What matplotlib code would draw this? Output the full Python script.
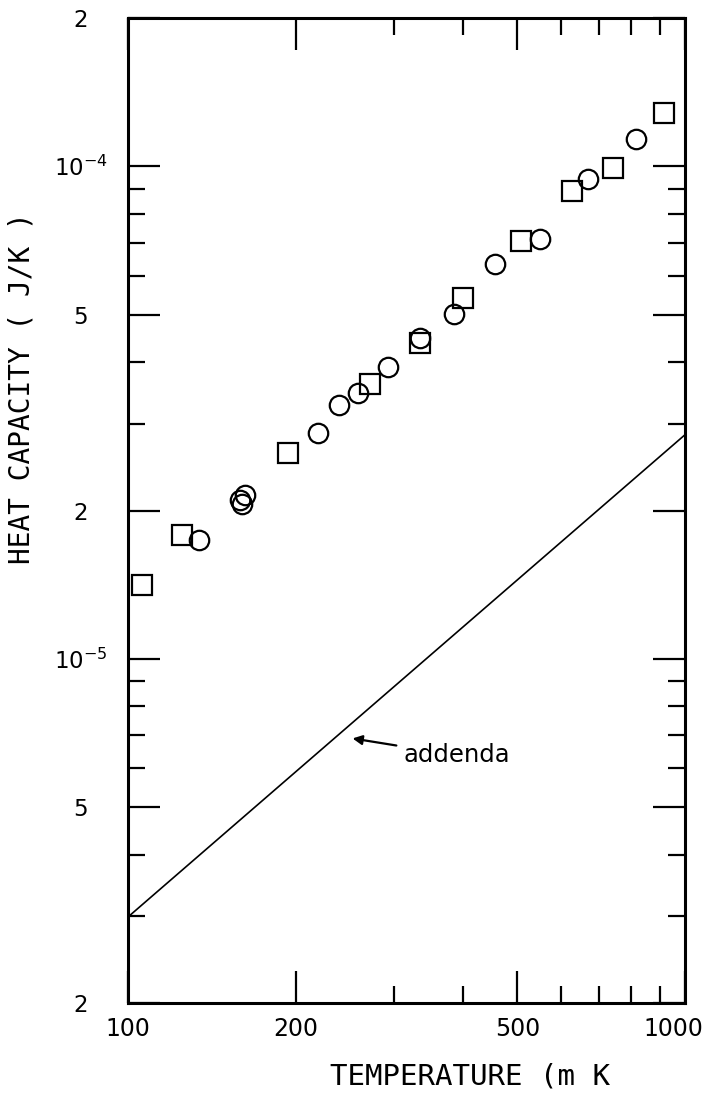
import numpy as np
import matplotlib
matplotlib.use('Agg')
import matplotlib.pyplot as plt
import matplotlib.transforms as mtransforms
from matplotlib.ticker import FixedLocator, NullFormatter

# ---- data ----
# squares
t_sq = [106, 125, 194, 272, 334, 400, 508, 628, 742, 916]
c_sq = [1.41e-5, 1.78e-5, 2.62e-5, 3.61e-5, 4.37e-5, 5.39e-5, 7.05e-5, 8.9e-5, 9.9e-5, 1.28e-4]
# circles
t_ci = [134, 159, 162.5, 160.4, 219, 239, 259, 293, 334, 385, 455, 550, 671, 816]
c_ci = [1.74e-5, 2.10e-5, 2.15e-5, 2.06e-5, 2.87e-5, 3.27e-5, 3.46e-5, 3.91e-5,
        4.49e-5, 5.02e-5, 6.34e-5, 7.12e-5, 9.41e-5, 1.134e-4]
# addenda line
t_add = [100, 1000]
c_add = [2.99e-6, 2.85e-5]

xticks = [100, 200, 500, 1000]
xticklabels = ['100', '200', '500', '1000']
xminor = [300, 400, 600, 700, 800, 900]
yticks = [2e-6, 5e-6, 1e-5, 2e-5, 5e-5, 1e-4, 2e-4]
yticklabels = ['2', '5', r'$10^{-5}$', '2', '5', r'$10^{-4}$', '2']
yminor = [3e-6, 4e-6, 6e-6, 7e-6, 8e-6, 9e-6,
          3e-5, 4e-5, 6e-5, 7e-5, 8e-5, 9e-5]

# ---- plot ----
W, H = 709, 1098
fig = plt.figure(figsize=(W / 100, H / 100), dpi=100)
ax = fig.add_axes([128 / W, 1 - 1003 / H, 557 / W, 985 / H])

ax.plot(t_add, c_add, color='black', lw=1.2)
ax.plot(t_sq, c_sq, 's', ms=14.5, mfc='none', mec='black', mew=1.6)
ax.plot(t_ci, c_ci, 'o', ms=14, mfc='none', mec='black', mew=1.6)

ax.annotate('addenda', xy=(253, 6.89e-6), xytext=(312, 6.37e-6),
            ha='left', va='center', fontsize=17.5,
            arrowprops=dict(arrowstyle='-|>', color='black', lw=1.6,
                            mutation_scale=14, shrinkA=3, shrinkB=0))

ax.set_xscale('log')
ax.set_yscale('log')
ax.set_xlim(100, 1000)
ax.set_ylim(2e-6, 2e-4)

ax.xaxis.set_major_locator(FixedLocator(xticks))
ax.set_xticklabels(xticklabels)
ax.xaxis.set_minor_locator(FixedLocator(xminor))
ax.xaxis.set_minor_formatter(NullFormatter())
ax.yaxis.set_major_locator(FixedLocator(yticks))
ax.set_yticklabels(yticklabels, ha='center')
ax.yaxis.set_minor_locator(FixedLocator(yminor))
ax.yaxis.set_minor_formatter(NullFormatter())

ax.tick_params(which='both', direction='in', top=True, right=True, width=1.6, color='black')
ax.tick_params(which='major', length=23)
ax.tick_params(which='minor', length=12)
ax.tick_params(axis='x', which='major', labelsize=17, pad=10)
ax.tick_params(axis='y', which='major', labelsize=16.5, pad=34)

# the "1000" label sits a little inside the right edge
lab = ax.get_xticklabels()[-1]
lab.set_transform(lab.get_transform() + mtransforms.ScaledTranslation(-12 / 100, 0, fig.dpi_scale_trans))

for s in ax.spines.values():
    s.set_linewidth(2.2)

fig.text(22 / W, 1 - 388 / H, 'HEAT CAPACITY ( J/K )', rotation=90,
         ha='center', va='center', fontsize=20, family='DejaVu Sans Mono')
fig.text(470 / W, 1 - 1077 / H, 'TEMPERATURE (m K', ha='center', va='center',
         fontsize=21, family='DejaVu Sans Mono')

fig.savefig('out.png', dpi=100)
